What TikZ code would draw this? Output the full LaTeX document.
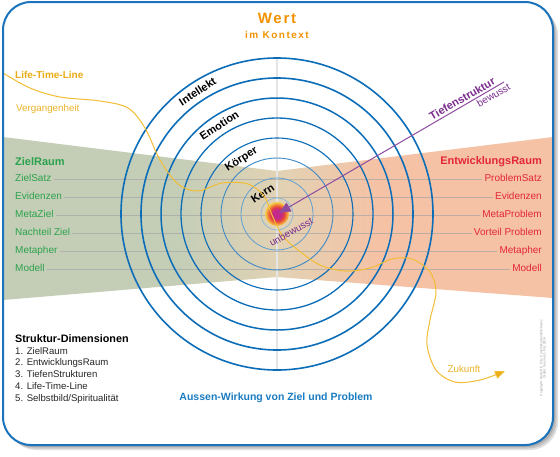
\documentclass[tikz,border=0pt]{standalone}
\usepackage{fontspec}
\setmainfont{Liberation Sans}
\usetikzlibrary{arrows.meta,positioning,calc}

\definecolor{ringblue}{HTML}{0B6CB8}
\definecolor{frameblue}{HTML}{1A73BB}
\definecolor{wertorange}{HTML}{F39200}
\definecolor{ltlgold}{HTML}{E9AC12}
\definecolor{ltlline}{HTML}{F2BD35}
\definecolor{zielgreen}{HTML}{2BA24C}
\definecolor{entwred}{HTML}{E3263A}
\definecolor{tiefpurple}{HTML}{7B2D8E}
\definecolor{aussenblue}{HTML}{1A7CC2}
\definecolor{bandgreen}{HTML}{C4CEB7}
\definecolor{bandmid}{HTML}{E2D2B4}
\definecolor{bandsalmon}{HTML}{F5C2A5}
\definecolor{kmag}{HTML}{C4288A}
\definecolor{kred}{HTML}{E5413E}
\definecolor{korange}{HTML}{F08A3A}
\definecolor{kyellow}{HTML}{F6D44A}

\pgfdeclarehorizontalshading{bandshade}{100bp}{color(0bp)=(bandgreen); color(41bp)=(bandgreen); color(50bp)=(bandmid); color(59bp)=(bandsalmon); color(100bp)=(bandsalmon)}
\pgfdeclareradialshading{kernglow}{\pgfpoint{0bp}{0bp}}{color(0bp)=(kmag); color(9bp)=(kmag); color(15bp)=(kred); color(20bp)=(korange); color(25bp)=(kyellow); color(50bp)=(kyellow)}

\newcommand{\fs}[1]{\fontsize{#1}{#1}\selectfont}

\begin{document}
\begin{tikzpicture}[
  x=1pt, y=-1pt,
  ring/.style={draw=ringblue,line width=#1},
  ringlbl/.style={font=\bfseries\fs{11},inner sep=1pt,rotate=33},
  zhead/.style={font=\bfseries\fs{11},text=zielgreen,anchor=west,inner sep=2pt},
  zitem/.style={font=\fs{10},text=zielgreen,inner sep=2pt,text height=7.5pt,text depth=2pt},
  ehead/.style={font=\bfseries\fs{11},text=entwred,anchor=east,inner sep=2pt},
  eitem/.style={font=\fs{10},text=entwred,inner sep=2pt,text height=7.5pt,text depth=2pt},
  rowline/.style={draw=black!35,line width=.6pt,opacity=.7},
  sdim/.style={font=\fs{9.6},text=black!85,inner sep=1pt,text height=7pt,text depth=2pt},
  ltl/.style={draw=ltlline,line width=1pt,-{Triangle[length=10pt,width=8pt,fill=ltlgold]}},
  tief/.style={draw=tiefpurple!85,line width=1pt,-{Triangle[length=12pt,width=10pt]}}
]
\useasboundingbox (0,0) rectangle (560,456);
\fill[white] (0,0) rectangle (560,456);

% frame with soft shadow
\foreach \o in {2,3.5,5}
  \fill[black,opacity=.12,rounded corners=28pt] (3+\o,2+\o) rectangle (553+\o,445+\o);
\fill[white,rounded corners=28pt] (3,2) rectangle (553,445);

\coordinate (c) at (277,214);

% ZielRaum / EntwicklungsRaum band
\shade[shading=bandshade] (3,137) -- (277,171) -- (553,137) -- (553,298) -- (277,277) -- (3,300) -- cycle;
\draw[black!10,line width=1.5pt] (277,58) -- (277,370);

% titles
\node[font=\bfseries\fs{15}\addfontfeature{LetterSpace=12},text=wertorange] (wert) at (277,18) {Wert};
\node[font=\bfseries\fs{10}\addfontfeature{LetterSpace=15},text=wertorange,below=1pt of wert] (imk) {im Kontext};

% left side
\node[zhead] (zr) at (13,162) {ZielRaum};
\node[zitem,below=17pt of zr.west,anchor=west] (zl1) {ZielSatz};
\node[zitem,below=18pt of zl1.west,anchor=west] (zl2) {Evidenzen};
\node[zitem,below=18pt of zl2.west,anchor=west] (zl3) {MetaZiel};
\node[zitem,below=18pt of zl3.west,anchor=west] (zl4) {Nachteil Ziel};
\node[zitem,below=18pt of zl4.west,anchor=west] (zl5) {Metapher};
\node[zitem,below=18pt of zl5.west,anchor=west] (zl6) {Modell};

% right side
\node[ehead] (er) at (544,162) {EntwicklungsRaum};
\node[eitem,below=17pt of er.east,anchor=east] (el1) {ProblemSatz};
\node[eitem,below=18pt of el1.east,anchor=east] (el2) {Evidenzen};
\node[eitem,below=18pt of el2.east,anchor=east] (el3) {MetaProblem};
\node[eitem,below=18pt of el3.east,anchor=east] (el4) {Vorteil Problem};
\node[eitem,below=18pt of el4.east,anchor=east] (el5) {Metapher};
\node[eitem,below=18pt of el5.east,anchor=east] (el6) {Modell};

\draw[rowline] (zl1) -- (el1);
\draw[rowline] (zl2) -- (el2);
\draw[rowline] (zl3) -- (el3);
\draw[rowline] (zl4) -- (el4);
\draw[rowline] (zl5) -- (el5);
\draw[rowline] (zl6) -- (el6);

% rings
\draw[ring=1.6pt] (c) circle[radius=156pt];
\draw[ring=1.6pt] (c) circle[radius=136pt];
\draw[ring=1.5pt] (c) circle[radius=116pt];
\draw[ring=1.3pt] (c) circle[radius=96pt];
\draw[ring=1.1pt] (c) circle[radius=76pt];
\draw[ring=.9pt,draw=ringblue!80] (c) circle[radius=56pt];
\draw[ring=.8pt,draw=ringblue!65] (c) circle[radius=36pt];
\draw[ring=.7pt,draw=ringblue!50] (c) circle[radius=16pt];

\node[circle,minimum size=24pt,inner sep=0pt,shading=kernglow] (kern) at (c) {};

\node[ringlbl] (lint) at ($(c)+(123:146pt)$) {Intellekt};
\node[ringlbl] (lemo) at ($(c)+(123:106pt)$) {Emotion};
\node[ringlbl] (lkoe) at ($(c)+(123:65pt)$) {Körper};
\node[ringlbl] (lkern) at ($(c)+(125:25pt)$) {Kern};

% life-time-line
\node[font=\bfseries\fs{10},text=ltlgold,anchor=west,inner sep=1pt] (ltlh) at (14,75) {Life-Time-Line};
\node[font=\fs{9.8},text=ltlgold!90,anchor=west,inner sep=1pt] (verg) at (15,109) {Vergangenheit};
\node[font=\fs{9.8},text=ltlgold!90,inner sep=1pt] (zuk) at (464,369) {Zukunft};
\draw[ltl] plot[smooth,tension=.55] coordinates {(3,73) (30,88) (60,97) (100,101) (128,108) (145,128) (160,160) (178,184) (198,191) (222,183) (248,184) (264,196) (272,215) (282,235) (298,250) (320,265) (345,271) (370,268) (392,259) (412,259) (430,272) (436,292) (430,320) (427,345) (436,370) (455,382) (480,380) (505,371)};

% Tiefenstruktur
\coordinate (tsA) at (504,82);
\draw[tief,shorten >=2pt] (tsA) -- (kern.center)
  node[pos=.17,sloped,above,font=\bfseries\fs{11},text=tiefpurple,inner sep=2pt] (tsl) {Tiefenstruktur}
  node[pos=.06,sloped,below,font=\fs{10},text=tiefpurple,inner sep=2pt] (bew) {bewusst};
\node[font=\fs{10},text=tiefpurple,rotate=29] (unb) at (291,232) {unbewusst};

% bottom texts
\node[font=\bfseries\fs{10.5},text=aussenblue] (aus) at (276,398) {Aussen-Wirkung von Ziel und Problem};
\node[font=\bfseries\fs{10.8},anchor=west,inner sep=1pt,text height=7.5pt,text depth=2pt] (sd0) at (14,340) {Struktur-Dimensionen};
\node[sdim,below=11.7pt of sd0.west,anchor=west] (sd1) {1. ZielRaum};
\node[sdim,below=11.7pt of sd1.west,anchor=west] (sd2) {2. EntwicklungsRaum};
\node[sdim,below=11.7pt of sd2.west,anchor=west] (sd3) {3. TiefenStrukturen};
\node[sdim,below=11.7pt of sd3.west,anchor=west] (sd4) {4. Life-Time-Line};
\node[sdim,below=11.7pt of sd4.west,anchor=west] (sd5) {5. Selbstbild/Spiritualität};

\node[font=\fs{3.4},text=black!40,rotate=90,align=center,inner sep=0pt] (cpy) at (543,358) {Copyright: Rudolf E. Fitz, CoachAkademieSchweiz\\Grafik: Version 3, Fitz 2014};

% frame border
\draw[frameblue,line width=2pt,rounded corners=28pt] (3,2) rectangle (553,445);
\end{tikzpicture}
\end{document}
